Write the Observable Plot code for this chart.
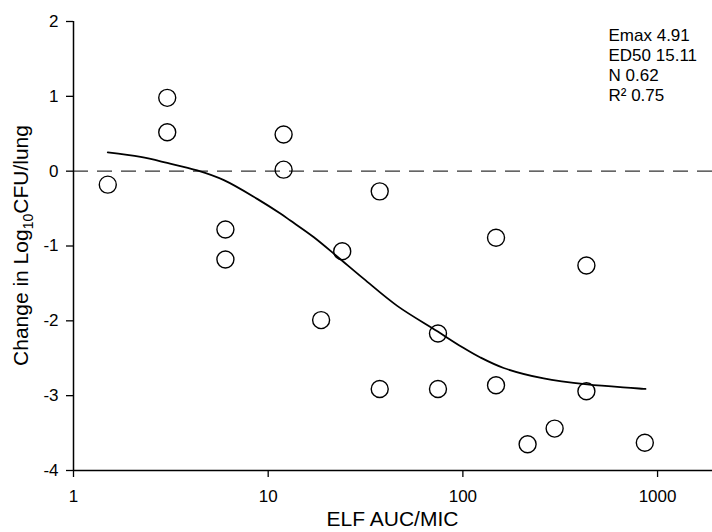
<!DOCTYPE html>
<html>
<head>
<meta charset="utf-8">
<script src="https://cdn.jsdelivr.net/npm/d3@7"></script>
<script src="https://cdn.jsdelivr.net/npm/@observablehq/plot@0.6"></script>
<style>
  html, body { margin: 0; padding: 0; background: #fff; }
  #chart svg { display: block; }
</style>
</head>
<body>
<div id="chart"></div>
<script>
// Observed data points
const aucMic = [1.5, 3.03, 3.03, 6.03, 6.03, 12.0, 12.0, 18.7, 24.0, 37.4, 37.4, 74.5, 74.5, 148, 148, 215, 296, 431, 431, 860];
const changeLog = [-0.18, 0.98, 0.52, -0.78, -1.18, 0.49, 0.02, -1.99, -1.07, -0.27, -2.91, -2.17, -2.91, -0.89, -2.86, -3.65, -3.44, -1.26, -2.94, -3.63];

// Fitted curve
const fitX = [1.5, 2.21, 3.03, 4.32, 5.92, 8.78, 11.6, 13.0, 17.1, 22.6, 31.0, 46.0, 74, 99, 123, 162, 260, 435, 867];
const fitY = [0.25, 0.19, 0.11, 0.01, -0.12, -0.37, -0.57, -0.66, -0.88, -1.14, -1.44, -1.80, -2.14, -2.35, -2.49, -2.63, -2.77, -2.85, -2.91];

// Axis ticks and annotation
const xTicks = [1, 10, 100, 1000];
const yTicks = [-4, -3, -2, -1, 0, 1, 2];
const fitStats = ["Emax 4.91", "ED50 15.11", "N 0.62", "R\u00B2 0.75"];
const xLabel = "ELF AUC/MIC";
const yLabelParts = ["Change in Log", "10", "CFU/lung"];

const points = aucMic.map((x, i) => ({x, y: changeLog[i]}));
const fit = fitX.map((x, i) => ({x, y: fitY[i]}));

const font = "'Liberation Sans', Arial, Helvetica, sans-serif";

const chart = Plot.plot({
  width: 712,
  height: 532,
  marginLeft: 73,
  marginRight: 0,
  marginTop: 21,
  marginBottom: 62,
  style: {fontFamily: font, fontSize: "17px", color: "#000", background: "#fff"},
  x: {type: "log", domain: [1, 1915]},
  y: {domain: [-4, 2]},
  marks: [
    Plot.ruleY([0], {stroke: "#333", strokeWidth: 1.3, strokeDasharray: "15,9"}),
    Plot.line(fit, {x: "x", y: "y", stroke: "#000", strokeWidth: 1.8, curve: "catmull-rom"}),
    Plot.dot(points, {x: "x", y: "y", r: 8.5, stroke: "#000", strokeWidth: 1.4, fill: "none"}),
    Plot.ruleX([1], {stroke: "#000", strokeWidth: 1.5}),
    Plot.ruleY([-4], {stroke: "#000", strokeWidth: 1.5}),
    Plot.axisX({ticks: xTicks, tickFormat: d => String(d), tickSize: 7, tickPadding: 12, fontSize: 17, label: null, stroke: "#000", strokeWidth: 1.3}),
    Plot.axisY({ticks: yTicks, tickFormat: d => String(d), tickSize: 7, tickPadding: 8, fontSize: 17, label: null, stroke: "#000", strokeWidth: 1.3}),
    Plot.text([fitStats.join("\n")], {
      frameAnchor: "top-right", textAnchor: "start", lineAnchor: "top",
      dx: -104, dy: 5, fontSize: 17, lineHeight: 1.18, fill: "#000"
    })
  ]
});

document.getElementById("chart").appendChild(chart);

// Axis titles (with subscript) added as real SVG text
const svg = d3.select(chart);
const [y0, y1] = chart.scale("y").range;
const [x0, x1] = chart.scale("x").range;
const yt = svg.append("text")
  .attr("transform", `translate(28,${(y0 + y1) / 2}) rotate(-90)`)
  .attr("text-anchor", "middle")
  .attr("font-family", font)
  .attr("font-size", 21)
  .attr("fill", "#000");
yt.append("tspan").text(yLabelParts[0]);
yt.append("tspan").attr("font-size", 14).attr("dy", 5).text(yLabelParts[1]);
yt.append("tspan").attr("dy", -5).text(yLabelParts[2]);

svg.append("text")
  .attr("x", (x0 + x1) / 2)
  .attr("y", 526)
  .attr("text-anchor", "middle")
  .attr("font-family", font)
  .attr("font-size", 21)
  .attr("fill", "#000")
  .text(xLabel);
</script>
</body>
</html>
